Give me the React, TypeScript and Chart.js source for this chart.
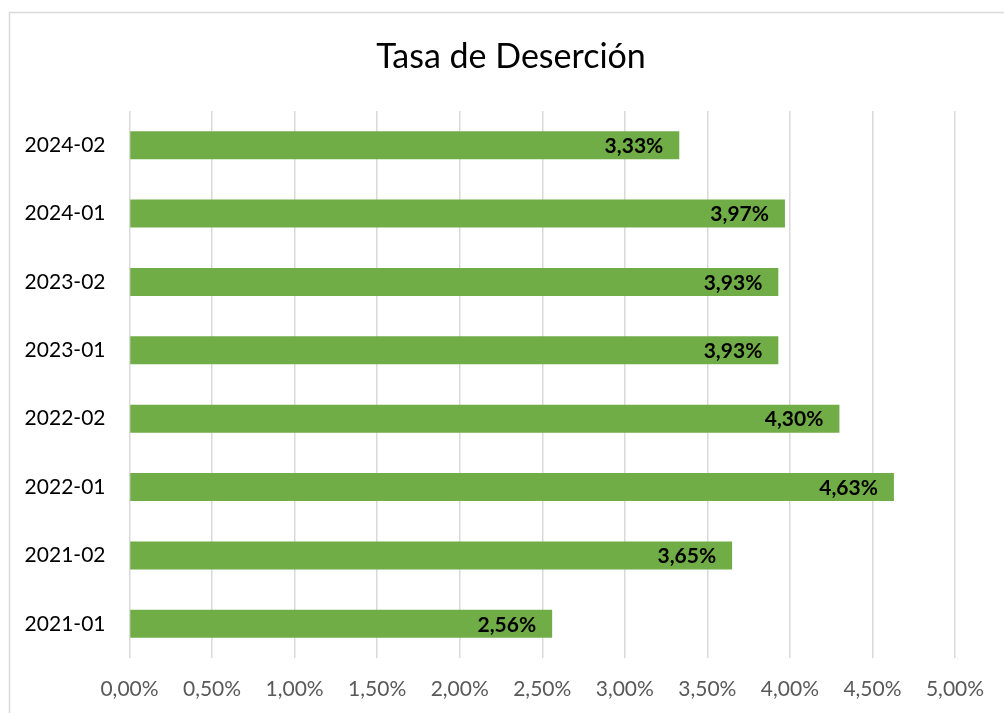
import React, { useEffect, useRef } from "react";
import { Chart, registerables } from "chart.js";

Chart.register(...registerables);

const categories = ["2021-01", "2021-02", "2022-01", "2022-02", "2023-01", "2023-02", "2024-01", "2024-02"];
const values = [2.56, 3.65, 4.63, 4.3, 3.93, 3.93, 3.97, 3.33];
const xTicks = [0, 0.5, 1, 1.5, 2, 2.5, 3, 3.5, 4, 4.5, 5];
const titleText = "Tasa de Deserción";

const FONT = "Lato, 'Noto Sans', sans-serif";
const fmt = (v: number) => v.toFixed(2).replace(".", ",") + "%";

const borderPlugin = {
  id: "outerBorder",
  beforeDraw(chart: any) {
    const ctx = chart.ctx;
    ctx.save();
    ctx.fillStyle = "#ffffff";
    ctx.fillRect(0, 0, chart.width, chart.height);
    ctx.strokeStyle = "#d9d9d9";
    ctx.lineWidth = 1.5;
    ctx.strokeRect(9.5, 12.5, chart.width + 20, chart.height + 20);
    ctx.restore();
  },
  afterDraw(chart: any) {
    const ctx = chart.ctx;
    ctx.save();
    ctx.font = `34px ${FONT}`;
    ctx.fillStyle = "#000000";
    ctx.textAlign = "center";
    ctx.textBaseline = "middle";
    ctx.fillText(titleText, 511, 57);
    ctx.restore();
  },
};

const labelPlugin = {
  id: "barLabels",
  afterDatasetsDraw(chart: any) {
    const ctx = chart.ctx;
    const meta = chart.getDatasetMeta(0);
    ctx.save();
    ctx.font = `bold 21px ${FONT}`;
    ctx.fillStyle = "#000000";
    ctx.textAlign = "right";
    ctx.textBaseline = "middle";
    meta.data.forEach((bar: any, i: number) => {
      ctx.fillText(fmt(values[i]), bar.x - 16, bar.y + 1);
    });
    ctx.restore();
  },
};

export default function App() {
  const ref = useRef<HTMLCanvasElement>(null);
  useEffect(() => {
    if (!ref.current) return;
    const chart = new Chart(ref.current, {
      type: "bar",
      data: {
        labels: categories,
        datasets: [
          {
            data: values,
            backgroundColor: "#70ad47",
            categoryPercentage: 1,
            barPercentage: 0.41,
          },
        ],
      },
      plugins: [borderPlugin, labelPlugin],
      options: {
        animation: false,
        responsive: false,
        indexAxis: "y",
        layout: { padding: { left: 0, right: 49, top: 111, bottom: 0 } },
        plugins: {
          legend: { display: false },
          tooltip: { enabled: false },
          title: { display: false },
        },
        scales: {
          x: {
            type: "linear",
            min: 0,
            max: 5,
            afterBuildTicks: (scale: any) => {
              scale.ticks = xTicks.map((v) => ({ value: v }));
            },
            afterFit: (scale: any) => {
              scale.height = 55;
            },
            ticks: {
              color: "#595959",
              font: { family: FONT, size: 21 },
              padding: 19,
              callback: (v: any) => fmt(Number(v)),
              maxRotation: 0,
            },
            grid: { color: "#d9d9d9", lineWidth: 1.5, drawTicks: false },
            border: { display: false },
          },
          y: {
            reverse: true,
            afterFit: (scale: any) => {
              scale.width = 129.5;
            },
            ticks: {
              color: "#000000",
              font: { family: FONT, size: 21 },
              padding: 24,
            },
            grid: { display: false, drawTicks: false },
            border: { display: false },
          },
        },
      },
    } as any);
    return () => chart.destroy();
  }, []);
  return (
    <div style={{ position: "absolute", left: 0, top: 0, width: 1004, height: 713, overflow: "hidden" }}>
      <canvas ref={ref} width={1004} height={713} style={{ display: "block" }} />
    </div>
  );
}
